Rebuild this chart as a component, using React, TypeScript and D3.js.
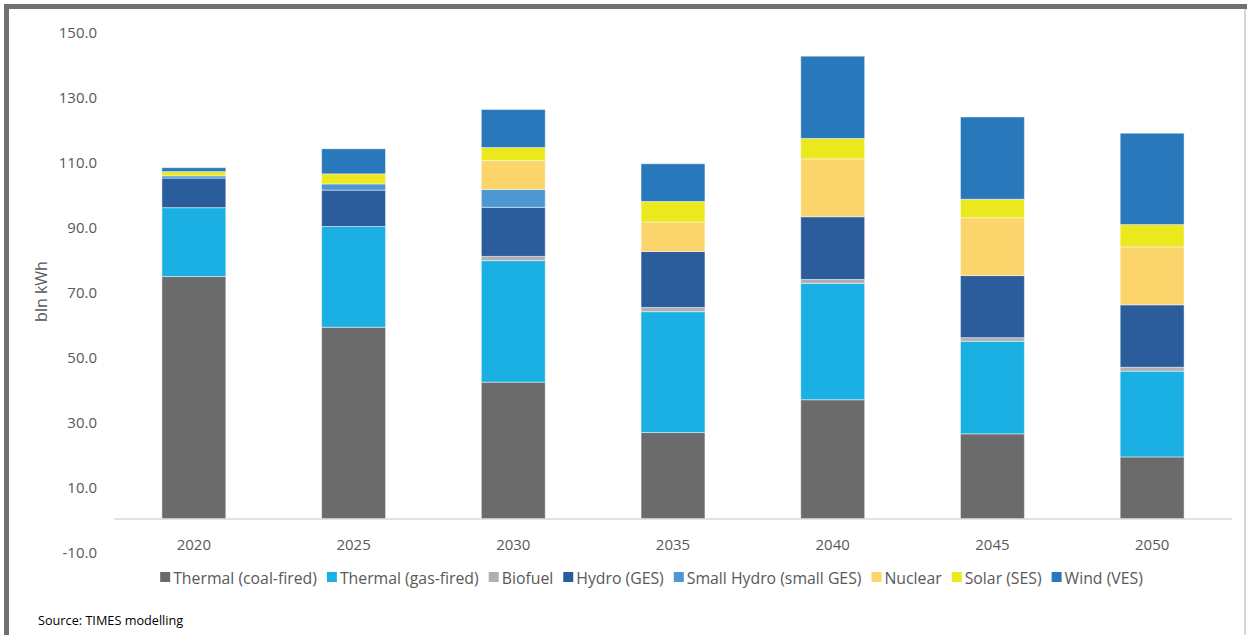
import React, { useMemo } from 'react';
import * as d3 from 'd3';

const years = ['2020', '2025', '2030', '2035', '2040', '2045', '2050'];
const seriesNames = [
  'Thermal (coal-fired)',
  'Thermal (gas-fired)',
  'Biofuel',
  'Hydro (GES)',
  'Small Hydro (small GES)',
  'Nuclear',
  'Solar (SES)',
  'Wind (VES)',
];
const coal = [74.6, 59.0, 42.1, 26.6, 36.7, 26.2, 19.1];
const gas = [21.2, 31.0, 37.4, 37.2, 35.8, 28.5, 26.4];
const biofuel = [0, 0, 1.3, 1.3, 1.2, 1.1, 1.2];
const hydro = [9.1, 11.2, 15.1, 17.2, 19.3, 19.1, 19.2];
const smallHydro = [0.7, 1.9, 5.5, 0, 0, 0, 0];
const nuclear = [0, 0, 8.9, 9.1, 17.8, 17.8, 17.8];
const solar = [1.3, 3.1, 4.0, 6.3, 6.3, 5.7, 6.9];
const wind = [1.2, 7.7, 11.7, 11.6, 25.3, 25.3, 28.1];
const yTicks = [-10, 10, 30, 50, 70, 90, 110, 130, 150];
const colors = ['#6b6b6b', '#1bb0e4', '#b0b0b2', '#2b5c9c', '#4f97d2', '#fbd56b', '#ebe81e', '#2878bb'];

const W = 1247;
const H = 635;
const FONT = "'Open Sans', sans-serif";
const LEGEND_FS = 15.8;

export default function App() {
  const seriesValues = [coal, gas, biofuel, hydro, smallHydro, nuclear, solar, wind];
  const table = years.map((y, i) => {
    const row: any = { year: y };
    seriesNames.forEach((s, k) => (row[s] = seriesValues[k][i]));
    return row;
  });
  const stacked = d3.stack<any>().keys(seriesNames)(table);

  const x = d3.scaleBand<string>().domain(years).range([114, 1232]).paddingInner(0.6).paddingOuter(0.3);
  const y = d3.scaleLinear().domain([-10, 150]).range([551.5, 31.5]);

  const legend = useMemo(() => {
    const canvas = document.createElement('canvas');
    const ctx = canvas.getContext('2d')!;
    ctx.font = `${LEGEND_FS}px ${FONT}`;
    const items: { name: string; x: number; color: string }[] = [];
    let cx = 0;
    seriesNames.forEach((n, i) => {
      items.push({ name: n, x: cx, color: colors[i] });
      cx += 10 + 3 + ctx.measureText(n).width + 10;
    });
    const total = cx - 10;
    const start = 651.5 - total / 2;
    return items.map((it) => ({ ...it, x: it.x + start }));
  }, []);

  const fmt = (t: number) => d3.format('.1f')(t).replace('\u2212', '-');

  return (
    <div style={{ position: 'fixed', left: 0, top: 0, width: W, height: H, background: '#fff' }}>
      <svg width={W} height={H} style={{ display: 'block' }}>
        <rect x={0} y={0} width={W} height={H} fill="#fff" />
        {/* frame */}
        <line x1={1245} y1={6} x2={1245} y2={H} stroke="#c8c8c8" strokeWidth={1.5} />
        <rect x={4} y={4} width={W - 4} height={5} fill="#707070" />
        <rect x={4} y={4} width={5} height={H - 4} fill="#707070" />

        {/* y tick labels */}
        {yTicks.map((t) => (
          <text key={t} x={97} y={y(t) + 0.5} textAnchor="end" dominantBaseline="central" fontFamily={FONT} fontSize={15} fill="#595959">
            {fmt(t)}
          </text>
        ))}
        <text
          transform={`translate(41,${y(70)}) rotate(-90)`}
          textAnchor="middle"
          dominantBaseline="central"
          fontFamily={FONT}
          fontSize={16}
          fill="#595959"
        >
          bln kWh
        </text>

        {/* bars */}
        {stacked.map((layer, k) => (
          <g key={layer.key} fill={colors[k]}>
            {layer.map((d, i) =>
              d[1] - d[0] > 0 ? (
                <rect
                  key={i}
                  x={x(years[i])!}
                  y={y(d[1])}
                  width={x.bandwidth()}
                  height={y(d[0]) - y(d[1])}
                  stroke="rgba(255,255,255,0.45)"
                  strokeWidth={1}
                />
              ) : null
            )}
          </g>
        ))}

        {/* x axis */}
        <line x1={114} x2={1232} y1={y(0)} y2={y(0)} stroke="#d9d9d9" strokeWidth={1.5} />
        {years.map((yr) => (
          <text key={yr} x={x(yr)! + x.bandwidth() / 2} y={543.5} textAnchor="middle" dominantBaseline="central" fontFamily={FONT} fontSize={15} fill="#595959">
            {yr}
          </text>
        ))}

        {/* legend */}
        {legend.map((it) => (
          <g key={it.name}>
            <rect x={it.x} y={572} width={10} height={10} fill={it.color} />
            <text x={it.x + 13} y={577.5} dominantBaseline="central" fontFamily={FONT} fontSize={LEGEND_FS} fill="#595959">
              {it.name}
            </text>
          </g>
        ))}

        <text x={38} y={620} dominantBaseline="central" fontFamily={FONT} fontSize={12.7} fill="#000">
          Source: TIMES modelling
        </text>
      </svg>
    </div>
  );
}
